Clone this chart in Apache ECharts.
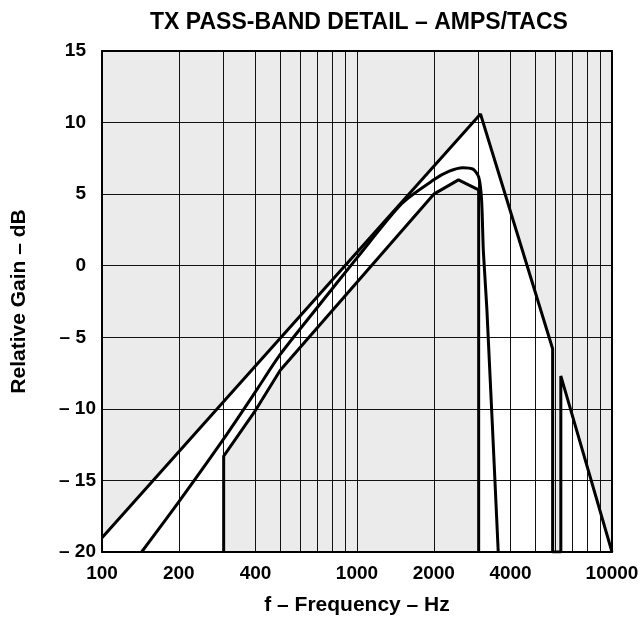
<!DOCTYPE html>
<html>
<head>
<meta charset="utf-8">
<script src="https://cdn.jsdelivr.net/npm/echarts@6/dist/echarts.min.js"></script>
<style>html,body{margin:0;padding:0;background:#fff;}#c{width:642px;height:622px;}</style>
</head>
<body>
<div id="c"></div>
<script>
// Frequency grid and tick labels
var gridFreqs = [100,200,300,400,500,600,700,800,900,1000,2000,3000,4000,5000,6000,7000,8000,9000,10000];
var xTickLabels = [100,200,400,1000,2000,4000,10000];
var yTicks = [-20,-15,-10,-5,0,5,10,15];

// Upper limit (mask, with notch)
var upperF = [100, 3050, 5850, 5850, 6300, 6300, 10000];
var upperG = [-19, 10.6, -5.8, -20, -20, -7.7, -20];

// Lower limit
var lowerF = [300, 300, 400, 500, 2000, 2500, 3000, 3000];
var lowerG = [-20, -13.3, -10.1, -7.3, 5.0, 6.0, 5.3, -20];

// Typical response
var midF = [143, 200, 300, 400, 500, 700, 1000, 1500, 2000, 2300, 2600, 2850, 3000, 3080, 3130, 3230, 3580];
var midG = [-20, -16.5, -12.1, -8.8, -6.2, -2.9, 0.55, 4.35, 6.0, 6.6, 6.85, 6.75, 6.2, 4.6, 1.0, -3.0, -20];

function pairs(f, g) { return f.map(function (v, i) { return [v, g[i]]; }); }

var FONT = "'Liberation Sans', Arial, Helvetica, sans-serif";
var chart = echarts.init(document.getElementById('c'), null, {renderer: 'canvas'});

var polyPts = pairs(upperF, upperG)
  .concat(pairs(lowerF, lowerG).reverse())
  .concat([[100, -20]]);

var option = {
  animation: false,
  backgroundColor: '#fff',
  title: {
    text: 'TX PASS-BAND DETAIL – AMPS/TACS',
    left: 354, top: 6, textAlign: 'center',
    textStyle: {fontFamily: FONT, fontWeight: 'bold', fontSize: 23, color: '#000'}
  },
  grid: {left: 102, right: 30, top: 51, bottom: 70, show: true, backgroundColor: '#ebebeb', borderWidth: 0,
    outerBoundsMode: 'none', containLabel: false},
  xAxis: [{
    type: 'log', logBase: 10, min: 100, max: 10000, z: 3,
    name: 'f – Frequency – Hz', nameLocation: 'middle', nameGap: 43,
    nameTextStyle: {fontFamily: FONT, fontWeight: 'bold', fontSize: 21, color: '#000'},
    axisLine: {show: true, onZero: false, lineStyle: {color: '#000', width: 2}},
    axisTick: {show: false, customValues: gridFreqs},
    axisLabel: {customValues: xTickLabels, fontFamily: FONT, fontWeight: 'bold', fontSize: 19, color: '#000', margin: 12,
      formatter: function (v) { return String(Math.round(v)); }},
    splitLine: {show: true, lineStyle: {color: '#111', width: 1}}
  }, {
    type: 'log', logBase: 10, min: 100, max: 10000, z: 3, position: 'top',
    axisLine: {show: true, onZero: false, lineStyle: {color: '#000', width: 2}},
    axisTick: {show: false}, axisLabel: {show: false}, splitLine: {show: false}
  }],
  yAxis: [{
    type: 'value', min: -20, max: 15, interval: 5, z: 3,
    name: 'Relative Gain – dB', nameLocation: 'middle', nameGap: 72,
    nameTextStyle: {fontFamily: FONT, fontWeight: 'bold', fontSize: 21, color: '#000'},
    axisLine: {show: true, onZero: false, lineStyle: {color: '#000', width: 2}},
    axisTick: {show: false},
    axisLabel: {fontFamily: FONT, fontWeight: 'bold', fontSize: 19, color: '#000', margin: 6,
      formatter: function (v) {
        var t = v < 0 ? '– ' + Math.abs(v) : String(v);
        return v <= -10 ? t : '{p|' + t + '}';
      },
      rich: {p: {fontFamily: FONT, fontWeight: 'bold', fontSize: 19, color: '#000', padding: [0, 10, 0, 0]}}},
    splitLine: {show: true, lineStyle: {color: '#111', width: 1}}
  }, {
    type: 'value', min: -20, max: 15, interval: 5, z: 3, position: 'right',
    axisLine: {show: true, onZero: false, lineStyle: {color: '#000', width: 2}},
    axisTick: {show: false}, axisLabel: {show: false}, splitLine: {show: false}
  }],
  series: [{
    type: 'custom', z: 1, silent: true,
    data: [0],
    renderItem: function (params, api) {
      var pts = polyPts.map(function (p) { return api.coord(p); });
      return {type: 'polygon', shape: {points: pts}, style: {fill: '#fff', stroke: null}};
    }
  }, {
    type: 'line', z: 5, symbol: 'none', data: pairs(upperF, upperG),
    lineStyle: {color: '#000', width: 3}
  }, {
    type: 'line', z: 5, symbol: 'none', data: pairs(lowerF, lowerG),
    lineStyle: {color: '#000', width: 3}
  }, {
    type: 'line', z: 5, symbol: 'none', smooth: 0.25, data: pairs(midF, midG),
    lineStyle: {color: '#000', width: 3}
  }]
};
chart.setOption(option);
</script>
</body>
</html>
